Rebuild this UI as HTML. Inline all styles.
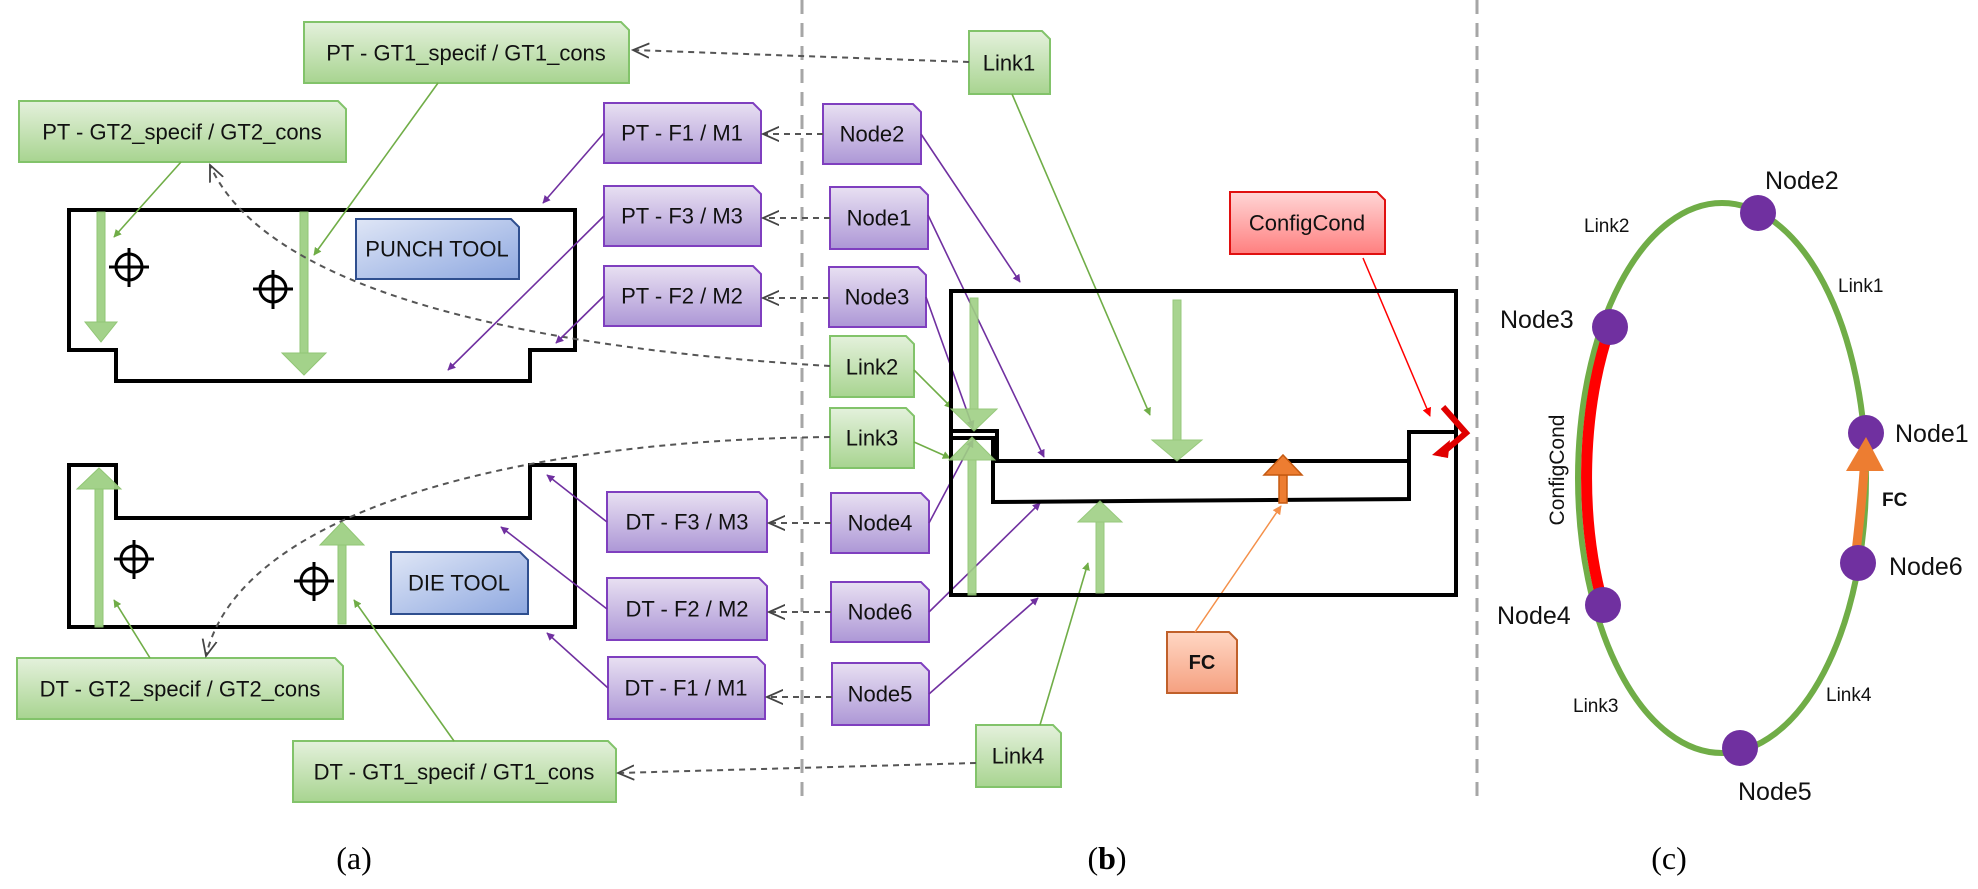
<!DOCTYPE html>
<html><head><meta charset="utf-8"><style>
html,body{margin:0;padding:0;background:#fff}
svg{display:block}
text{font-family:"Liberation Sans",sans-serif}
</style></head><body>
<svg width="1978" height="889" viewBox="0 0 1978 889" xmlns="http://www.w3.org/2000/svg">
<defs>
<linearGradient id="gG" x1="0" y1="0" x2="0" y2="1"><stop offset="0" stop-color="#e4f1dc"/><stop offset="1" stop-color="#a8d490"/></linearGradient>
<linearGradient id="gP" x1="0" y1="0" x2="0" y2="1"><stop offset="0" stop-color="#e8e0f2"/><stop offset="1" stop-color="#ad97d6"/></linearGradient>
<linearGradient id="gB" x1="0" y1="0" x2="1" y2="1"><stop offset="0" stop-color="#dfe6f6"/><stop offset="1" stop-color="#8ea8e0"/></linearGradient>
<linearGradient id="gR" x1="0" y1="0" x2="0" y2="1"><stop offset="0" stop-color="#ffd6d6"/><stop offset="1" stop-color="#ff7f7f"/></linearGradient>
<linearGradient id="gO" x1="0" y1="0" x2="0" y2="1"><stop offset="0" stop-color="#ffd7c4"/><stop offset="1" stop-color="#f5a080"/></linearGradient>
<marker id="mP" viewBox="0 0 10 10" refX="9" refY="5" markerWidth="5" markerHeight="5" orient="auto"><path d="M0,0 L10,5 L0,10 Z" fill="#7030a0"/></marker>
<marker id="mG" viewBox="0 0 10 10" refX="9" refY="5" markerWidth="5" markerHeight="5" orient="auto"><path d="M0,0 L10,5 L0,10 Z" fill="#70ad47"/></marker>
<marker id="mR" viewBox="0 0 10 10" refX="9" refY="5" markerWidth="6" markerHeight="6" orient="auto"><path d="M0,0 L10,5 L0,10 Z" fill="#ff0000"/></marker>
<marker id="mO" viewBox="0 0 10 10" refX="9" refY="5" markerWidth="6" markerHeight="6" orient="auto"><path d="M0,0 L10,5 L0,10 Z" fill="#f4904a"/></marker>
<marker id="mD" viewBox="0 0 10 10" refX="9" refY="5" markerWidth="9" markerHeight="9" orient="auto"><path d="M0,1 L9,5 L0,9" fill="none" stroke="#444" stroke-width="1"/></marker>
</defs>

<line x1="802" y1="0" x2="802" y2="802" stroke="#a6a6a6" stroke-width="3" stroke-dasharray="14,9"/>
<line x1="1477" y1="0" x2="1477" y2="802" stroke="#a6a6a6" stroke-width="3" stroke-dasharray="14,9"/>

<g fill="none" stroke="#000" stroke-width="4">
<path d="M69,210 H575 V350 H530 V381 H116 V350 H69 Z"/>
<path d="M69,465 H116 V518 H530 V465 H575 V627 H69 Z"/>
</g>
<g fill="#9fd084" stroke="#8cc46e" stroke-width="1" opacity="0.95">
<rect x="97" y="212" width="8" height="110"/><path d="M85,322 H117 L101,342 Z"/>
<rect x="300" y="212" width="8" height="141"/><path d="M282,353 H326 L304,375 Z"/>
<rect x="95" y="489" width="8" height="138"/><path d="M77,489 H121 L99,468 Z"/>
<rect x="338" y="545" width="8" height="79"/><path d="M320,545 H364 L342,522 Z"/>
</g>
<g fill="none" stroke="#000" stroke-width="3">
<circle cx="129" cy="267" r="13"/><path d="M109,267 H149 M129,248 V287"/>
<circle cx="273" cy="289" r="13"/><path d="M253,289 H293 M273,270 V309"/>
<circle cx="134" cy="559" r="13"/><path d="M114,559 H154 M134,540 V579"/>
<circle cx="314" cy="581" r="13"/><path d="M294,581 H334 M314,562 V601"/>
</g>

<g stroke-width="2">
<path d="M304,22 H621 L629,30 V83 H304 Z" fill="url(#gG)" stroke="#82c36a"/>
<path d="M19,101 H338 L346,109 V162 H19 Z" fill="url(#gG)" stroke="#82c36a"/>
<path d="M969,31 H1042 L1050,39 V94 H969 Z" fill="url(#gG)" stroke="#82c36a"/>
<path d="M830,336 H906 L914,344 V397 H830 Z" fill="url(#gG)" stroke="#82c36a"/>
<path d="M830,408 H906 L914,416 V468 H830 Z" fill="url(#gG)" stroke="#82c36a"/>
<path d="M976,725 H1053 L1061,733 V787 H976 Z" fill="url(#gG)" stroke="#82c36a"/>
<path d="M17,658 H335 L343,666 V719 H17 Z" fill="url(#gG)" stroke="#82c36a"/>
<path d="M293,741 H608 L616,749 V802 H293 Z" fill="url(#gG)" stroke="#82c36a"/>
<path d="M604,103 H753 L761,111 V163 H604 Z" fill="url(#gP)" stroke="#7f3fbf"/>
<path d="M604,186 H753 L761,194 V246 H604 Z" fill="url(#gP)" stroke="#7f3fbf"/>
<path d="M604,266 H753 L761,274 V326 H604 Z" fill="url(#gP)" stroke="#7f3fbf"/>
<path d="M607,492 H759 L767,500 V552 H607 Z" fill="url(#gP)" stroke="#7f3fbf"/>
<path d="M607,578 H759 L767,586 V640 H607 Z" fill="url(#gP)" stroke="#7f3fbf"/>
<path d="M608,657 H757 L765,665 V719 H608 Z" fill="url(#gP)" stroke="#7f3fbf"/>
<path d="M823,104 H913 L921,112 V164 H823 Z" fill="url(#gP)" stroke="#7f3fbf"/>
<path d="M830,187 H920 L928,195 V249 H830 Z" fill="url(#gP)" stroke="#7f3fbf"/>
<path d="M829,267 H918 L926,275 V327 H829 Z" fill="url(#gP)" stroke="#7f3fbf"/>
<path d="M831,493 H921 L929,501 V553 H831 Z" fill="url(#gP)" stroke="#7f3fbf"/>
<path d="M831,582 H921 L929,590 V642 H831 Z" fill="url(#gP)" stroke="#7f3fbf"/>
<path d="M832,663 H921 L929,671 V725 H832 Z" fill="url(#gP)" stroke="#7f3fbf"/>
<path d="M356,219 H511 L519,227 V279 H356 Z" fill="url(#gB)" stroke="#2f4f8f"/>
<path d="M391,552 H520 L528,560 V614 H391 Z" fill="url(#gB)" stroke="#2f4f8f"/>
<path d="M1230,192 H1377 L1385,200 V254 H1230 Z" fill="url(#gR)" stroke="#e01010"/>
<path d="M1167,632 H1229 L1237,640 V693 H1167 Z" fill="url(#gO)" stroke="#c0602a"/>
</g>

<g font-size="22" fill="#111" text-anchor="middle" dominant-baseline="central">
<text x="466" y="53">PT - GT1_specif / GT1_cons</text>
<text x="182" y="132">PT - GT2_specif / GT2_cons</text>
<text x="1009" y="63">Link1</text>
<text x="872" y="367">Link2</text>
<text x="872" y="438">Link3</text>
<text x="1018" y="756">Link4</text>
<text x="180" y="689">DT - GT2_specif / GT2_cons</text>
<text x="454" y="772">DT - GT1_specif / GT1_cons</text>
<text x="682" y="133">PT - F1 / M1</text>
<text x="682" y="216">PT - F3 / M3</text>
<text x="682" y="296">PT - F2 / M2</text>
<text x="687" y="522">DT - F3 / M3</text>
<text x="687" y="609">DT - F2 / M2</text>
<text x="686" y="688">DT - F1 / M1</text>
<text x="872" y="134">Node2</text>
<text x="879" y="218">Node1</text>
<text x="877" y="297">Node3</text>
<text x="880" y="523">Node4</text>
<text x="880" y="612">Node6</text>
<text x="880" y="694">Node5</text>
<text x="437" y="249">PUNCH TOOL</text>
<text x="459" y="583">DIE TOOL</text>
<text x="1307" y="223">ConfigCond</text>
<text x="1202" y="663" font-weight="bold" font-size="20">FC</text>
</g>

<g fill="none" stroke="#555" stroke-width="2" stroke-dasharray="6,5" marker-end="url(#mD)">
<line x1="969" y1="62" x2="633" y2="50"/>
<line x1="823" y1="134" x2="763" y2="134"/>
<line x1="830" y1="218" x2="763" y2="218"/>
<line x1="829" y1="298" x2="763" y2="298"/>
<line x1="831" y1="523" x2="769" y2="523"/>
<line x1="831" y1="612" x2="769" y2="612"/>
<line x1="832" y1="697" x2="767" y2="697"/>
<line x1="976" y1="763" x2="618" y2="773"/>
<path d="M830,366 C560,350 270,300 210,165"/>
<path d="M830,437 C520,440 240,510 206,656"/>
</g>

<g stroke="#7030a0" stroke-width="1.6" fill="none" marker-end="url(#mP)">
<line x1="604" y1="133" x2="543" y2="203"/>
<line x1="604" y1="216" x2="448" y2="370"/>
<line x1="604" y1="296" x2="556" y2="343"/>
<line x1="607" y1="522" x2="547" y2="475"/>
<line x1="607" y1="609" x2="501" y2="527"/>
<line x1="608" y1="688" x2="547" y2="633"/>
<line x1="921" y1="134" x2="1020" y2="282"/>
<line x1="928" y1="215" x2="1044" y2="457"/>
<line x1="926" y1="297" x2="973" y2="428"/>
<line x1="929" y1="523" x2="973" y2="440"/>
<line x1="929" y1="612" x2="1040" y2="503"/>
<line x1="929" y1="694" x2="1038" y2="598"/>
</g>
<g stroke="#70ad47" stroke-width="1.6" fill="none" marker-end="url(#mG)">
<line x1="181" y1="162" x2="114" y2="237"/>
<line x1="438" y1="83" x2="314" y2="255"/>
<line x1="150" y1="658" x2="114" y2="600"/>
<line x1="454" y1="741" x2="354" y2="600"/>
<line x1="1012" y1="94" x2="1150" y2="415"/>
<line x1="914" y1="370" x2="952" y2="408"/>
<line x1="914" y1="442" x2="950" y2="458"/>
<line x1="1040" y1="725" x2="1088" y2="563"/>
</g>
<line x1="1363" y1="258" x2="1430" y2="416" stroke="#ff0000" stroke-width="1.5" marker-end="url(#mR)"/>
<line x1="1195" y1="632" x2="1281" y2="506" stroke="#f4904a" stroke-width="1.5" marker-end="url(#mO)"/>

<g fill="none" stroke="#000" stroke-width="4">
<rect x="951" y="291" width="505" height="304"/>
<path d="M951,431 H997 V461 H1409 V432 H1456"/>
<path d="M951,438 H993 V502 L1409,499 V461"/>
</g>
<g fill="#9fd084" stroke="#8cc46e" stroke-width="1" opacity="0.9">
<rect x="970" y="298" width="8" height="111"/><path d="M951,409 H997 L974,431 Z"/>
<rect x="968" y="460" width="8" height="135"/><path d="M949,460 H995 L972,437 Z"/>
<rect x="1173" y="300" width="8" height="140"/><path d="M1152,440 H1202 L1177,461 Z"/>
<rect x="1096" y="522" width="8" height="71"/><path d="M1078,522 H1122 L1100,501 Z"/>
</g>
<g fill="#ed7d31" stroke="#c55a11" stroke-width="1.5">
<rect x="1279" y="475" width="8" height="28"/><path d="M1264,475 H1302 L1283,455 Z"/>
</g>
<path d="M1443,407 L1466,433 L1440,455" fill="none" stroke="#e00000" stroke-width="6"/>
<path d="M1432,455 L1450,440 L1448,458 Z" fill="#e00000"/>

<ellipse cx="1722" cy="478" rx="144" ry="275" fill="none" stroke="#70ad47" stroke-width="6"/>
<path d="M1610,327 A144,275 0 0 0 1603,605" fill="none" stroke="#ff0000" stroke-width="11"/>
<path d="M1856,552 Q1862,500 1864,471" fill="none" stroke="#ed7d31" stroke-width="9"/>
<g fill="#7030a0">
<circle cx="1758" cy="213" r="18"/>
<circle cx="1610" cy="327" r="18"/>
<circle cx="1866" cy="433" r="18"/>
<circle cx="1858" cy="563" r="18"/>
<circle cx="1603" cy="605" r="18"/>
<circle cx="1740" cy="748" r="18"/>
</g>
<path d="M1846,471 H1884 L1866,437 Z" fill="#ed7d31"/>
<g font-size="25" fill="#111">
<text x="1765" y="189">Node2</text>
<text x="1500" y="328">Node3</text>
<text x="1895" y="442">Node1</text>
<text x="1889" y="575">Node6</text>
<text x="1497" y="624">Node4</text>
<text x="1738" y="800">Node5</text>
</g>
<g font-size="19" fill="#111">
<text x="1584" y="232">Link2</text>
<text x="1838" y="292">Link1</text>
<text x="1573" y="712">Link3</text>
<text x="1826" y="701">Link4</text>
<text x="1882" y="506" font-weight="bold">FC</text>
<text transform="translate(1564,470) rotate(-90)" text-anchor="middle" font-size="21">ConfigCond</text>
</g>

<g font-size="32" fill="#000" text-anchor="middle">
<text x="354" y="869" style="font-family:'Liberation Serif',serif">(a)</text>
<text x="1107" y="869" style="font-family:'Liberation Serif',serif">(<tspan font-weight="bold">b</tspan>)</text>
<text x="1669" y="869" style="font-family:'Liberation Serif',serif">(c)</text>
</g>
</svg>
</body></html>
